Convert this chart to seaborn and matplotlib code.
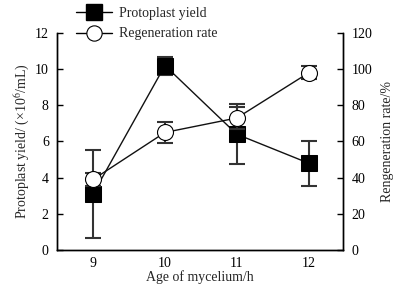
import seaborn as sns
import matplotlib.pyplot as plt
from matplotlib.lines import Line2D

sns.set_style('white')
plt.rcParams['font.family'] = ['Liberation Serif', 'DejaVu Serif']
plt.rcParams['mathtext.fontset'] = 'stix'

age = [9, 10, 11, 12]
yield_mean = [3.1, 10.2, 6.4, 4.8]
yield_err = [2.45, 0.5, 1.65, 1.25]
regen_mean = [39, 65, 73, 98]
regen_err = [3.5, 6, 6, 3.5]
x_ticks = [9, 10, 11, 12]

fig = plt.figure(figsize=(4.11, 2.87), dpi=100)
ax = fig.add_axes([0.139, 0.129, 0.696, 0.756])
ax2 = ax.twinx()

# protoplast yield (left axis)
ax.errorbar(age, yield_mean, yerr=yield_err, fmt='none', ecolor='#333333',
            elinewidth=1.5, capsize=5.5, capthick=1.5, zorder=2)
sns.lineplot(x=age, y=yield_mean, ax=ax, color='#111111', lw=1.0,
             marker='s', markersize=11.5, markerfacecolor='black',
             markeredgecolor='black', zorder=3)

# regeneration rate (right axis)
ax2.errorbar(age, regen_mean, yerr=regen_err, fmt='none', ecolor='#333333',
             elinewidth=1.5, capsize=5.5, capthick=1.5, zorder=2)
sns.lineplot(x=age, y=regen_mean, ax=ax2, color='#111111', lw=1.0,
             marker='o', markersize=11.5, markerfacecolor='white',
             markeredgecolor='black', markeredgewidth=0.8, zorder=3)

ax.set_xlim(8.5, 12.48)
ax.set_ylim(0, 12)
ax2.set_ylim(0, 120)
ax.set_xticks(x_ticks)
ax.set_yticks(range(0, 13, 2))
ax2.set_yticks(range(0, 121, 20))

for a in (ax, ax2):
    a.spines['top'].set_visible(False)
    for s in ('left', 'right', 'bottom'):
        a.spines[s].set_color('black')
        a.spines[s].set_linewidth(1.0)
    a.tick_params(direction='in', length=4, width=1, colors='black',
                  labelsize=10, pad=6)
ax.tick_params(axis='x', pad=5)
ax.tick_params(axis='y', left=True, right=False)
ax2.tick_params(axis='y', right=True, left=False)

ax.set_xlabel('Age of mycelium/h', fontsize=10, labelpad=0)
ax.set_ylabel(r'Protoplast yield/ (×10$^6$/mL)', fontsize=10, labelpad=2)
ax2.set_ylabel('Rengeneration rate/%', fontsize=10, labelpad=6)

handles = [
    Line2D([0], [0], color='black', lw=1.0, marker='s', markersize=11,
           markerfacecolor='black'),
    Line2D([0], [0], color='black', lw=1.0, marker='o', markersize=11,
           markerfacecolor='white', markeredgewidth=0.8),
]
fig.legend(handles, ['Protoplast yield', 'Regeneration rate'],
           loc='upper left', bbox_to_anchor=(0.155, 1.02), frameon=False,
           fontsize=10, handlelength=2.6, handletextpad=0.5,
           labelspacing=0.55)

fig.savefig('out.png', dpi=100)
